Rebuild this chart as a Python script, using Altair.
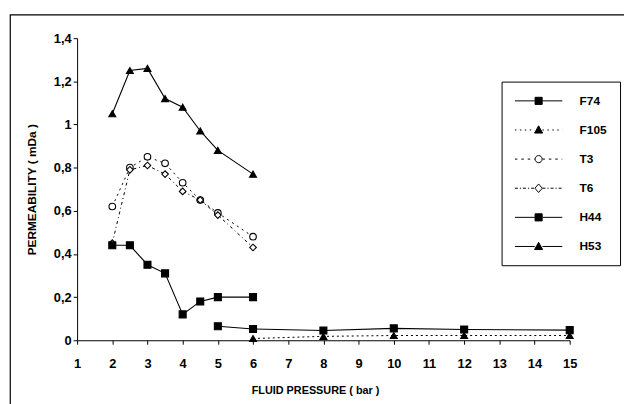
import altair as alt
import pandas as pd

# ---------------- data ----------------
series_names = ["F74", "F105", "T3", "T6", "H44", "H53"]

f74_x = [5, 6, 8, 10, 12, 15]
f74_v = [0.065, 0.052, 0.045, 0.055, 0.05, 0.047]

f105_x = [6, 8, 10, 12, 15]
f105_v = [0.008, 0.018, 0.022, 0.022, 0.022]

t3_x = [2, 2.5, 3, 3.5, 4, 4.5, 5, 6]
t3_v = [0.62, 0.80, 0.85, 0.82, 0.73, 0.65, 0.59, 0.48]

t6_x = [2, 2.5, 3, 3.5, 4, 4.5, 5, 6]
t6_v = [0.45, 0.79, 0.81, 0.77, 0.69, 0.65, 0.58, 0.43]

h44_x = [2, 2.5, 3, 3.5, 4, 4.5, 5, 6]
h44_v = [0.44, 0.44, 0.35, 0.31, 0.12, 0.18, 0.20, 0.20]

h53_x = [2, 2.5, 3, 3.5, 4, 4.5, 5, 6]
h53_v = [1.05, 1.25, 1.26, 1.12, 1.08, 0.97, 0.88, 0.77]

x_ticks = list(range(1, 16))
y_ticks = [0, 0.2, 0.4, 0.6, 0.8, 1.0, 1.2, 1.4]

x_title = "FLUID PRESSURE ( bar )"
y_title = "PERMEABILITY ( mDa )"

# ---------------- table ----------------
rows = []
for name, xs, vs in [("F74", f74_x, f74_v), ("F105", f105_x, f105_v),
                     ("T3", t3_x, t3_v), ("T6", t6_x, t6_v),
                     ("H44", h44_x, h44_v), ("H53", h53_x, h53_v)]:
    for x, v in zip(xs, vs):
        rows.append({"series": name, "x": x, "v": v})
df = pd.DataFrame(rows)

# ---------------- styles ----------------
FONT = "Liberation Sans"
styles = {
    "F74": dict(dash=None, shape="square", fill="black", size=50),
    "F105": dict(dash=[2, 3], shape="triangle-up", fill="black", size=50),
    "T3": dict(dash=[2, 4], shape="circle", fill="white", size=45),
    "T6": dict(dash=[3, 3, 1, 3], shape="diamond", fill="white", size=45),
    "H44": dict(dash=None, shape="square", fill="black", size=50),
    "H53": dict(dash=None, shape="triangle-up", fill="black", size=50),
}

x_enc = alt.X("x:Q",
              scale=alt.Scale(domain=[1, 15], range=[68, 567], nice=False, zero=False),
              axis=alt.Axis(values=x_ticks, title=x_title, offset=-68, grid=False,
                            tickSize=4, labelPadding=14, labelFontSize=13,
                            labelFontWeight="bold", titleFontSize=11,
                            titleFontWeight="bold", titleX=309, titleY=54,
                            titleBaseline="alphabetic", titleAlign="center",
                            labelFlush=False))
y_enc = alt.Y("v:Q",
              scale=alt.Scale(domain=[0, 1.4], range=[330, 24], nice=False, zero=False),
              axis=alt.Axis(values=y_ticks, title=y_title, offset=-68, grid=False,
                            tickSize=4, labelPadding=2, labelFontSize=13,
                            labelFontWeight="bold",
                            labelExpr="replace(format(datum.value, '.1~f'), '.', ',')",
                            titleFontSize=12, titleFontWeight="bold",
                            titleX=-42, titleY=177, titleAngle=270,
                            titleBaseline="alphabetic", titleAlign="center",
                            labelFlush=False))

layers = []
for name in series_names:
    st = styles[name]
    base = alt.Chart(df).transform_filter(alt.datum.series == name)
    line_kw = dict(color="black", strokeWidth=1.1)
    if st["dash"] is not None:
        line_kw["strokeDash"] = st["dash"]
        line_kw["strokeWidth"] = 1.0
    layers.append(base.mark_line(**line_kw).encode(x=x_enc, y=y_enc))
    layers.append(base.mark_point(shape=st["shape"], filled=True, fill=st["fill"],
                                  stroke="black", strokeWidth=1.1, size=st["size"],
                                  opacity=1).encode(x=x_enc, y=y_enc))

# ---------------- legend symbols (line + marker paths, unit = 6 px) ----------------
def dash_segments(pattern_px, start, end):
    if pattern_px is None:
        return "M%.3f,0H%.3f" % (start, end)
    pat = [p / 6.0 for p in pattern_px]
    out, pos, i, on = [], start, 0, True
    while pos < end - 1e-9:
        seg = min(pat[i % len(pat)], end - pos)
        if on:
            out.append("M%.3f,0H%.3f" % (pos, pos + seg))
        pos += seg
        on = not on
        i += 1
    return "".join(out)

marker_paths = {
    "square": "M2.4,-0.6H3.6V0.6H2.4Z",
    "triangle-up": "M3,-0.7L3.68,0.52L2.32,0.52Z",
    "circle": "M3.6,0A0.6,0.6 0 1,1 2.4,0A0.6,0.6 0 1,1 3.6,0Z",
    "diamond": "M3,-0.72L3.62,0L3,0.72L2.38,0Z",
}
legend_dash = {"F74": None, "F105": [1.5, 3.5], "T3": [2.5, 4], "T6": [3, 2, 1.2, 2],
               "H44": None, "H53": None}
legend_paths = []
legend_fills = []
for name in series_names:
    st = styles[name]
    d = legend_dash[name]
    p = dash_segments(d, -1.0, 2.35) + dash_segments(d, 3.65, 7.0) + marker_paths[st["shape"]]
    legend_paths.append(p)
    legend_fills.append(st["fill"])
legend_strokes = ["black"] * len(series_names)

leg = alt.Legend(title=None, orient="none", legendX=498, legendY=68,
                 symbolSize=144, symbolStrokeWidth=1,
                 labelOffset=53, labelFont=FONT, labelFontSize=12,
                 labelFontWeight="bold", labelColor="black", rowPadding=16.5,
                 padding=13, strokeColor="black", fillColor="white",
                 cornerRadius=0)

legend_layer = alt.Chart(df).transform_filter("datum.v < -1").mark_point(
    filled=True, opacity=1, strokeWidth=1
).encode(
    x=x_enc, y=y_enc,
    shape=alt.Shape("series:N", scale=alt.Scale(domain=series_names, range=legend_paths),
                    legend=leg),
    fill=alt.Fill("series:N", scale=alt.Scale(domain=series_names, range=legend_fills),
                  legend=leg),
    stroke=alt.Stroke("series:N", scale=alt.Scale(domain=series_names, range=legend_strokes),
                      legend=leg),
)

chart = alt.layer(*layers, legend_layer).properties(
    width=624, height=398,
    autosize=alt.AutoSizeParams(type="none"),
    padding={"left": 2, "top": 4, "right": -2, "bottom": -6},
    background="white",
).configure_view(
    stroke="black", strokeWidth=1.2
).configure_axis(
    domainColor="black", tickColor="black", labelColor="black", titleColor="black",
    labelFont=FONT, titleFont=FONT, domainWidth=1, tickWidth=1
)

chart.save("out.html", embed_options={"renderer": "svg", "actions": False})
